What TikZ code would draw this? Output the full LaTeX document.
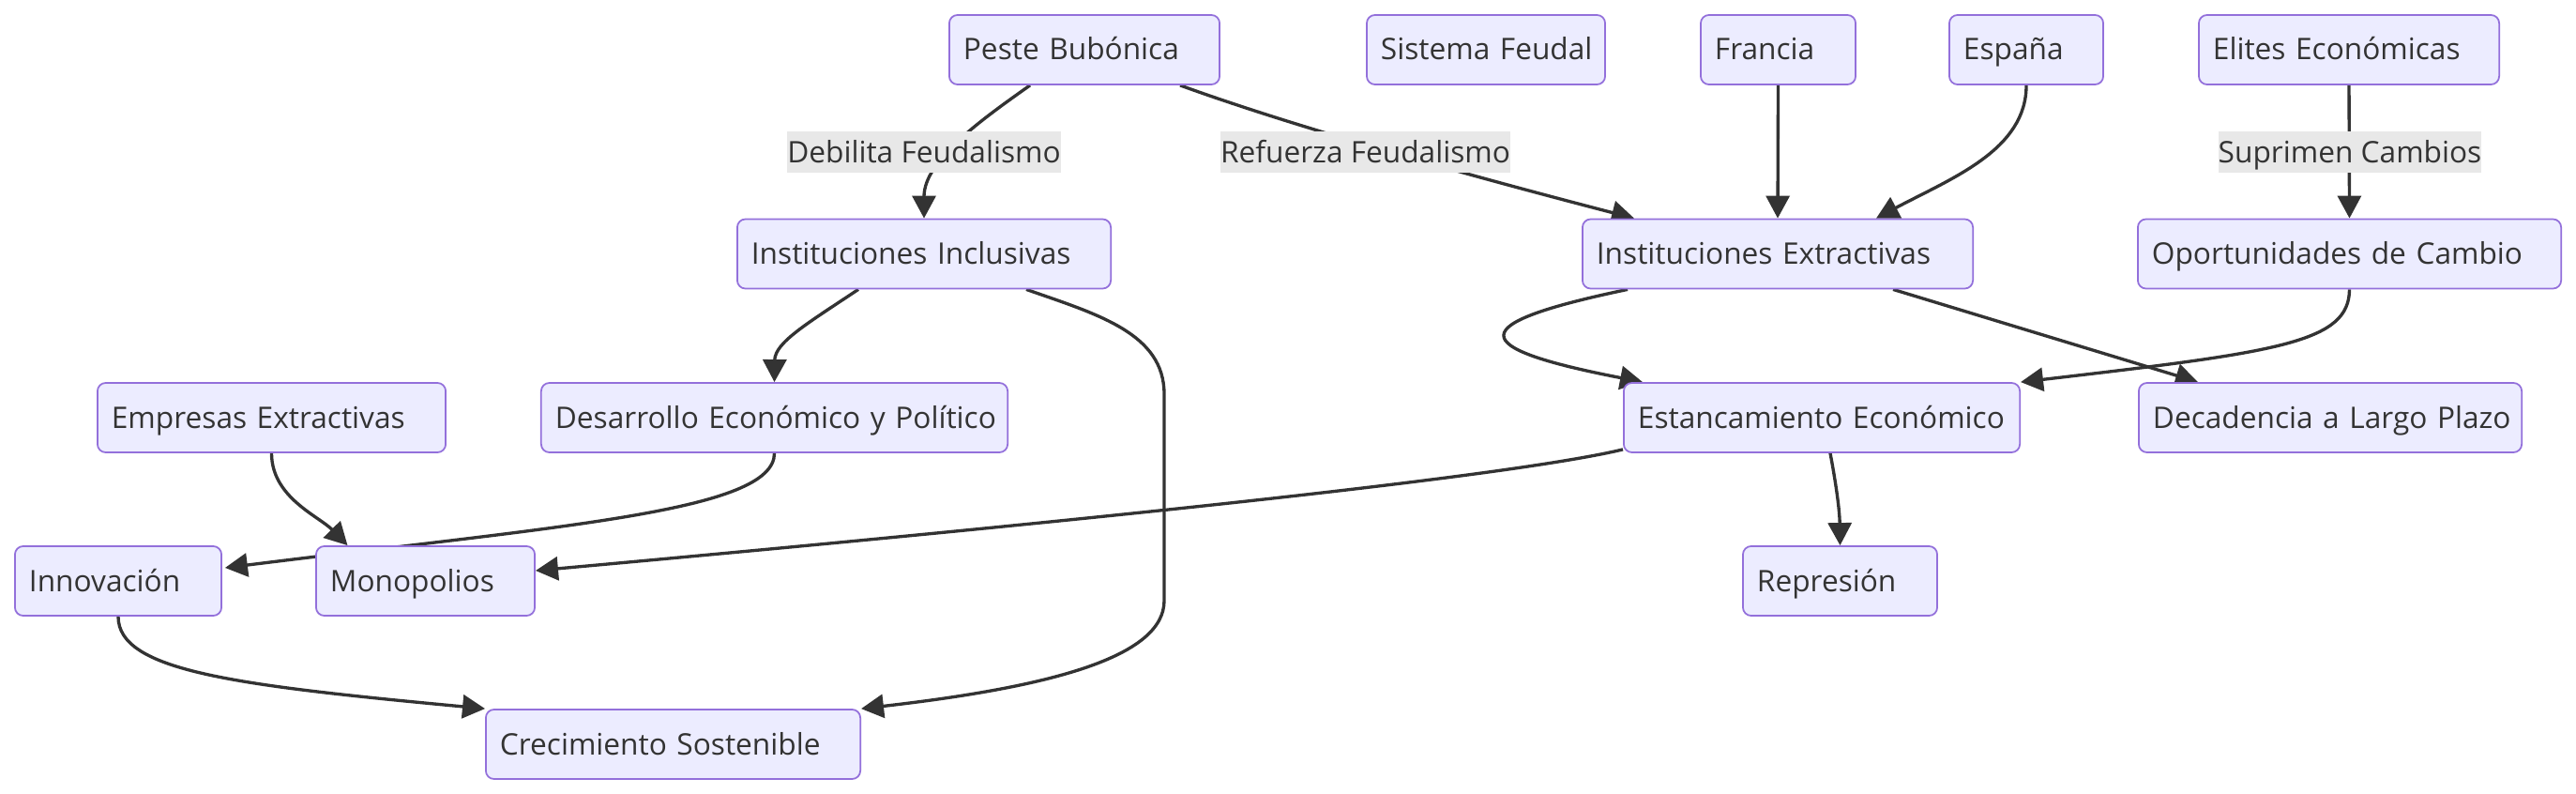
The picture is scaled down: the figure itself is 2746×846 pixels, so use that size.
\documentclass[tikz,border=0pt]{standalone}
\usepackage{fontspec}
\setmainfont{Open Sans}
\usetikzlibrary{arrows.meta,calc,backgrounds}
\definecolor{cajafondo}{HTML}{ECECFF}
\definecolor{cajaborde}{HTML}{9370DB}
\definecolor{tinta}{HTML}{333333}
\definecolor{etiqueta}{HTML}{E8E8E8}
\begin{document}
\begin{tikzpicture}[x=0.01cm, y=-0.01cm, font=\fontsize{9pt}{11pt}\selectfont,
  caja/.style={draw=cajaborde, fill=cajafondo, line width=0.5pt, rounded corners=2.5pt,
    text=tinta, minimum height=0.74cm, inner xsep=0.08cm, inner ysep=0pt,
    text height=0.26cm, text depth=0.04cm, align=left, text width=#1,
    execute at begin node=\hspace*{0.07cm}},
  etiq/.style={fill=etiqueta, text=tinta, inner xsep=0pt, inner ysep=0pt,
    text height=0.26cm, text depth=0.04cm, minimum height=0.44cm},
  flecha/.style={draw=tinta, line width=0.95pt, -{Triangle[length=0.24cm, width=0.25cm]}}]
  \useasboundingbox (0,0) rectangle (2746,846);
  % fila de arriba
  \node[caja=2.72cm] (peste) at (1156,53) {Peste Bubónica};
  \node[caja=2.38cm] (sistema) at (1584,53) {Sistema Feudal};
  \node[caja=1.49cm] (francia) at (1895.5,53) {Francia};
  \node[caja=1.48cm] (espana) at (2160,53) {España};
  \node[caja=3.04cm] (elites) at (2504,53) {Elites Económicas};
  % instituciones
  \node[caja=3.82cm] (inclusivas) at (985,270.5) {Instituciones Inclusivas};
  \node[caja=4.00cm] (extractivas) at (1895,270.5) {Instituciones Extractivas};
  \node[caja=4.35cm] (oportunidades) at (2504.5,270.5) {Oportunidades de Cambio};
  % consecuencias
  \node[caja=3.55cm] (empresas) at (289.5,445) {Empresas Extractivas};
  \node[caja=4.81cm] (desarrollo) at (825.5,445) {Desarrollo Económico y Político};
  \node[caja=4.06cm] (estancamiento) at (1942,445) {Estancamiento Económico};
  \node[caja=3.92cm] (decadencia) at (2484,445) {Decadencia a Largo Plazo};
  \node[caja=2.04cm] (innovacion) at (126,619) {Innovación};
  \node[caja=2.17cm] (monopolios) at (453.5,619) {Monopolios};
  \node[caja=1.91cm] (represion) at (1961.5,619) {Represión};
  \node[caja=3.83cm] (crecimiento) at (717.5,793) {Crecimiento Sostenible};
  % las flechas, por debajo de las cajas
  \begin{scope}[on background layer]
    \draw[flecha] ($(peste.south)+(-58,0)$) .. controls (1050,125) and (985,170) .. (inclusivas.north);
    \draw[flecha] ($(peste.south)+(102,0)$) .. controls (1360,128) and (1520,175) .. ($(extractivas.north)+(-153,0)$);
    \draw[flecha] (francia.south) -- (extractivas.north);
    \draw[flecha] (espana.south) .. controls (2160,160) and (2080,190) .. ($(extractivas.north)+(105,0)$);
    \draw[flecha] (elites.south) -- (oportunidades.north);
    \draw[flecha] ($(inclusivas.south)+(-70,0)$) .. controls (860,345) and (826,365) .. (desarrollo.north);
    \draw[flecha] ($(inclusivas.south)+(109,0)$) .. controls (1170,335) and (1241,355) .. (1241,420)
      -- (1241,640) .. controls (1241,700) and (1120,732) .. (crecimiento.north east);
    \draw[flecha] ($(extractivas.south)+(-160,0)$) .. controls (1560,345) and (1560,370) .. ($(estancamiento.north)+(-191,0)$);
    \draw[flecha] ($(extractivas.south)+(123,0)$) -- ($(decadencia.north)+(-141,0)$);
    \draw[flecha] (oportunidades.south) .. controls (2504,365) and (2430,375) .. (estancamiento.north east);
    \draw[flecha] ($(estancamiento.south)+(9,0)$) .. controls (1958,520) and (1961,545) .. (represion.north);
    \draw[flecha] ($(estancamiento.south west)+(0,-4)$) .. controls (1600,510) and (1100,560) .. ($(monopolios.east)+(0,-11)$);
    \draw[flecha] (desarrollo.south) .. controls (825.5,545) and (600,560) .. ($(innovacion.east)+(3,-14)$);
    \draw[flecha] (empresas.south) .. controls (289.5,530) and (340,550) .. ($(monopolios.north)+(-83,0)$);
    \draw[flecha] (innovacion.south) .. controls (126,715) and (250,730) .. (crecimiento.north west);
  \end{scope}
  % etiquetas de las flechas
  \node[etiq] (debilita) at (985,162) {Debilita Feudalismo};
  \node[etiq] (refuerza) at (1455.5,162) {Refuerza Feudalismo};
  \node[etiq] (suprimen) at (2505,162) {Suprimen Cambios};
\end{tikzpicture}
\end{document}
